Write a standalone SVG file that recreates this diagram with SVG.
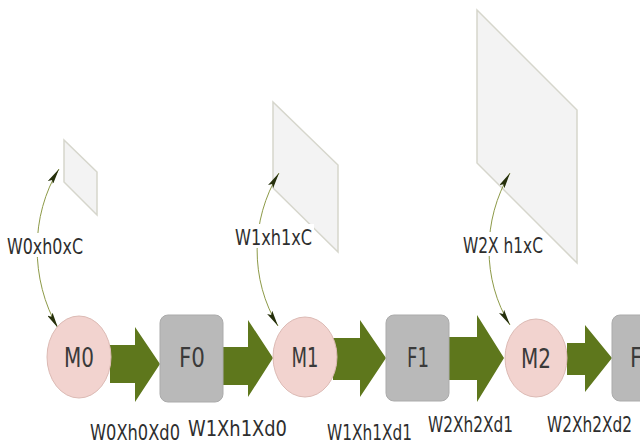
<svg xmlns="http://www.w3.org/2000/svg" width="640" height="445" viewBox="0 0 640 445">
  <defs>
    <style>
      .plane { fill: #f3f3f3; stroke: #d6d6cc; stroke-width: 1.5; }
      .mem { fill: #f2d3cf; stroke: #dcbab4; stroke-width: 1; }
      .filt { fill: #b9b9b9; stroke: #ababab; stroke-width: 1; }
      .flow { fill: #5e771c; }
      .link { fill: none; stroke: #8d9a48; stroke-width: 1; }
      .nlabel { font-family: "DejaVu Sans", "Liberation Sans", sans-serif; font-stretch: condensed; font-size: 27px; fill: #3a3a3a; text-anchor: middle; }
      .elabel { font-family: "DejaVu Sans", "Liberation Sans", sans-serif; font-stretch: condensed; font-size: 22px; fill: #2e2e2e; }
      .bg { fill: #ffffff; }
    </style>
    <marker id="tip" viewBox="0 0 16 6" refX="16" refY="3" markerWidth="16" markerHeight="6" markerUnits="userSpaceOnUse" orient="auto-start-reverse">
      <path d="M0,0 L16,3 L0,6 L3,3 Z" fill="#26300c"/>
    </marker>
  </defs>

  <!-- feature planes -->
  <g id="plane0"><polygon class="plane" points="64,140 97,172 97,215 64,182"/></g>
  <g id="plane1"><polygon class="plane" points="273,102 338,165 338,252 273,188"/></g>
  <g id="plane2"><polygon class="plane" points="477,10 577,110 577,263 477,163"/></g>

  <!-- connectors -->
  <g id="connectors">
    <path class="link" d="M58,328 C30,280 30,215 59,169" marker-start="url(#tip)" marker-end="url(#tip)"/>
    <path class="link" d="M278,326 C250,280 250,220 279,173" marker-start="url(#tip)" marker-end="url(#tip)"/>
    <path class="link" d="M510,325 C482,280 482,220 510,173" marker-start="url(#tip)" marker-end="url(#tip)"/>

    <polygon class="flow" points="110,345 135,345 135,327 160,364 135,402 135,383 110,383"/>
    <polygon class="flow" points="223,347 248,347 248,320 273,358 248,397 248,385 223,385"/>
    <polygon class="flow" points="333,338 360,338 360,320 386,358 360,397 360,380 333,380"/>
    <polygon class="flow" points="449,337 477,337 477,315 504,358 477,402 477,380 449,380"/>
    <polygon class="flow" points="567,343 585,343 585,325 612,358 585,392 585,375 567,375"/>

    <rect class="bg" x="6" y="233" width="79" height="24"/>
    <text class="elabel" x="7" y="254" textLength="76" lengthAdjust="spacingAndGlyphs">W0xh0xC</text>
    <rect class="bg" x="234" y="224" width="80" height="24"/>
    <text class="elabel" x="235" y="245" textLength="77" lengthAdjust="spacingAndGlyphs">W1xh1xC</text>
    <rect class="bg" x="462" y="232" width="83" height="24"/>
    <text class="elabel" x="463" y="253" textLength="80" lengthAdjust="spacingAndGlyphs">W2X h1xC</text>

    <text class="elabel" x="90" y="440" textLength="90" lengthAdjust="spacingAndGlyphs">W0Xh0Xd0</text>
    <text class="elabel" x="188" y="436" textLength="99" lengthAdjust="spacingAndGlyphs">W1Xh1Xd0</text>
    <text class="elabel" x="327" y="440" textLength="85" lengthAdjust="spacingAndGlyphs">W1Xh1Xd1</text>
    <text class="elabel" x="428" y="432" textLength="85" lengthAdjust="spacingAndGlyphs">W2Xh2Xd1</text>
    <text class="elabel" x="547" y="432" textLength="85" lengthAdjust="spacingAndGlyphs">W2Xh2Xd2</text>
  </g>

  <!-- nodes -->
  <g id="M0"><ellipse class="mem" cx="79" cy="357" rx="32" ry="41"/><text class="nlabel" x="79" y="367" textLength="30" lengthAdjust="spacingAndGlyphs">M0</text></g>
  <g id="F0"><rect class="filt" x="160" y="315" width="63" height="87" rx="8"/><text class="nlabel" x="192" y="367" textLength="26" lengthAdjust="spacingAndGlyphs">F0</text></g>
  <g id="M1"><ellipse class="mem" cx="305" cy="357" rx="32" ry="40"/><text class="nlabel" x="305" y="367" textLength="27" lengthAdjust="spacingAndGlyphs">M1</text></g>
  <g id="F1"><rect class="filt" x="386" y="315" width="63" height="86" rx="8"/><text class="nlabel" x="418" y="367" textLength="22" lengthAdjust="spacingAndGlyphs">F1</text></g>
  <g id="M2"><ellipse class="mem" cx="536" cy="358" rx="31" ry="39"/><text class="nlabel" x="536" y="368" textLength="30" lengthAdjust="spacingAndGlyphs">M2</text></g>
  <g id="F2"><rect class="filt" x="612" y="315" width="63" height="86" rx="8"/><text class="nlabel" x="643" y="367" textLength="26" lengthAdjust="spacingAndGlyphs">F2</text></g>
</svg>
